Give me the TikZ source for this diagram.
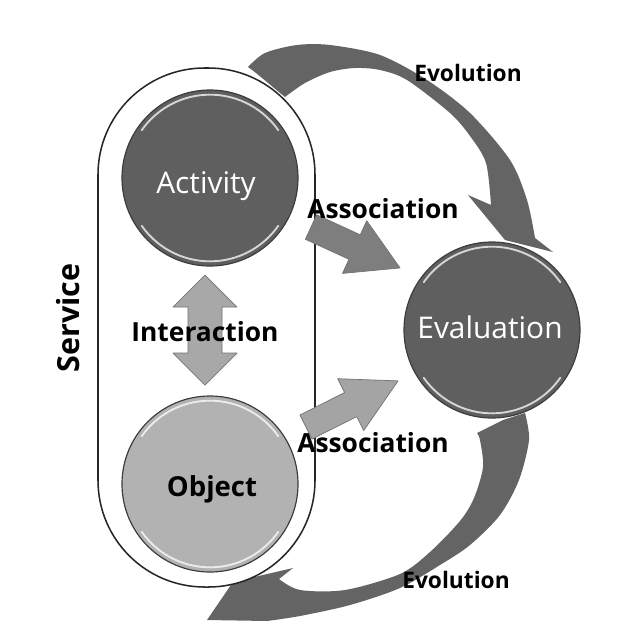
\documentclass[tikz,border=0pt]{standalone}
\usepackage{fontspec}
\setmainfont{Open Sans}
\definecolor{darkc}{HTML}{5F5F5F}
\definecolor{evoc}{HTML}{646464}
\definecolor{objc}{HTML}{B2B2B2}
\definecolor{assocA}{HTML}{7E7E7E}
\definecolor{assocB}{HTML}{A4A4A4}
\definecolor{interc}{HTML}{A8A8A8}
\definecolor{rimc}{HTML}{3C3C3C}
\tikzset{
  ball/.style={circle, inner sep=0pt, minimum size=5.28cm, draw=rimc, line width=1pt},
  darkball/.style={ball, fill=darkc},
  lightball/.style={ball, fill=objc},
  whitetxt/.style={anchor=base, inner sep=0pt, text=white, font=\fontsize{25.5}{28}\selectfont},
  lbl/.style={anchor=base, inner sep=0pt, text=black, font=\bfseries\fontsize{22.5}{25}\selectfont},
  evolbl/.style={anchor=base, inner sep=0pt, text=black, font=\bfseries\fontsize{19.4}{22}\selectfont},
  blockarrow/.style={draw=black!55, line width=0.6pt, line join=round},
  hilite/.style={white, opacity=0.75, line width=1.6pt, line cap=round}
}
\begin{document}
\begin{tikzpicture}[x=0.03cm,y=-0.03cm]
\useasboundingbox (0,0) rectangle (622,635);
\fill[white] (0,0) rectangle (622,635);

% top evolution arrow
\fill[evoc] plot[smooth] coordinates {(248,67) (265,53) (297,45) (330,45) (380,55) (427,80) (470,113) (510,160) (527,200) (535,238)}
  -- (553,252) -- (505,240) -- (468,195) -- (491,205)
  -- plot[smooth] coordinates {(491,205) (486,163) (470,136) (450,113) (407,80) (380,70) (355,68) (330,72) (305,83) (285,97)}
  .. controls (270,85) and (258,74) .. (248,67) -- cycle;

% bottom evolution arrow
\fill[evoc] (477,433) -- (503,420) -- (525,413)
  -- plot[smooth] coordinates {(525,413) (529,440) (519,480) (500,515) (470,545) (440,565) (400,588) (350,605) (300,616) (267,621)}
  -- (207,620) -- (233,582) -- (293,568) -- (279,579)
  -- plot[smooth] coordinates {(279,579) (300,590) (345,590) (400,574) (430,552) (460,521) (474,498) (483,467) (480,440) (477,433)}
  -- cycle;

% service box
\node[draw=black!85, line width=1.3pt, fill=white, rounded corners=3.2cm,
      minimum width=6.51cm, minimum height=15.57cm, inner sep=0pt] (service) at (206.5,327.5) {};
\node[rotate=90, inner sep=0pt, font=\bfseries\fontsize{26}{28}\selectfont] (servicelbl) at (68,318) {Service};

% circles
\node[darkball] (act) at (210,178) {};
\node[lightball] (obj) at (210,484) {};
\node[darkball] (eval) at (492,330) {};
\foreach \n in {act,obj,eval}{
  \draw[hilite] ([shift={(35:2.5cm)}]\n.center) arc[start angle=35, end angle=145, radius=2.5cm];
  \draw[hilite] ([shift={(215:2.5cm)}]\n.center) arc[start angle=215, end angle=325, radius=2.5cm];
}
\node[whitetxt] (acttxt) at (206,193) {Activity};
\node[whitetxt] (evaltxt) at (490,338) {Evaluation};
\node[lbl, font=\bfseries\fontsize{23.5}{26}\selectfont] (objtxt) at (212,496) {Object};

% interaction double arrow
\coordinate (itop) at (205,275);
\coordinate (ibot) at (205,385);
\fill[interc, blockarrow] (itop) -- (237,307) -- (222,307) -- (222,353) -- (237,353) -- (ibot)
  -- (173,353) -- (188,353) -- (188,307) -- (173,307) -- cycle;
\node[lbl] (interlbl) at (205,341) {Interaction};

% association arrows
\coordinate (a1tail) at (311,227);
\coordinate (a2tail) at (306,427);
\begin{scope}[shift={(a1tail)}, rotate=-24.7]
  \fill[assocA, blockarrow] (0,-13.5) -- (48,-13.5) -- (48,-29) -- (98,0) -- (48,29) -- (48,13.5) -- (0,13.5) -- cycle;
\end{scope}
\begin{scope}[shift={(a2tail)}, rotate=26.6]
  \fill[assocB, blockarrow] (0,-13.5) -- (50,-13.5) -- (50,-29) -- (103,0) -- (50,29) -- (50,13.5) -- (0,13.5) -- cycle;
\end{scope}
\node[lbl] (assoc1) at (383,218) {Association};
\node[lbl] (assoc2) at (373,452) {Association};

% evolution labels
\node[evolbl] (evo1) at (468,81) {Evolution};
\node[evolbl] (evo2) at (456,588) {Evolution};
\end{tikzpicture}
\end{document}
